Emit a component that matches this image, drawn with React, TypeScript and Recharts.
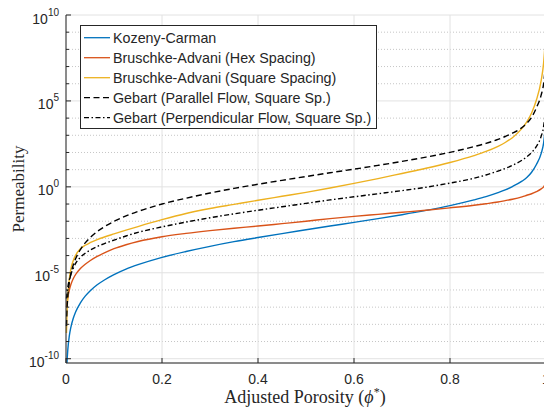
import React from 'react';
import { LineChart, Line, XAxis, YAxis, CartesianGrid, Legend } from 'recharts';

// adjusted porosity samples and log10(permeability)
const porosity = [0.001, 0.002, 0.004, 0.007, 0.01, 0.015, 0.02, 0.03, 0.04, 0.05, 0.065, 0.08, 0.1, 0.125, 0.15, 0.2, 0.25, 0.3, 0.35, 0.4, 0.45, 0.5, 0.55, 0.6, 0.65, 0.7, 0.75, 0.8, 0.85, 0.875, 0.9, 0.915, 0.93, 0.95, 0.96, 0.97, 0.98, 0.99, 0.995, 0.998];
const kozenyExp = [-11.2, -10.3, -9.4, -8.66, -8.19, -7.66, -7.28, -6.75, -6.36, -6.06, -5.7, -5.42, -5.11, -4.79, -4.53, -4.1, -3.76, -3.46, -3.19, -2.95, -2.72, -2.5, -2.28, -2.07, -1.85, -1.62, -1.37, -1.09, -0.76, -0.57, -0.34, -0.18, 0.02, 0.33, 0.54, 0.85, 1.3, 1.95, 2.55, 3.3];
const hexExp = [-7.0, -6.8, -6.4, -6.0, -5.7, -5.35, -5.1, -4.75, -4.5, -4.3, -4.05, -3.84, -3.6, -3.37, -3.18, -2.9, -2.71, -2.55, -2.41, -2.28, -2.14, -2.0, -1.85, -1.72, -1.6, -1.48, -1.36, -1.22, -1.07, -0.98, -0.88, -0.8, -0.72, -0.58, -0.49, -0.4, -0.28, -0.12, 0.0, 0.12];
const squareExp = [-8.5, -7.4, -6.3, -5.35, -4.8, -4.3, -3.98, -3.6, -3.4, -3.25, -3.07, -2.92, -2.74, -2.52, -2.31, -1.91, -1.55, -1.26, -1.02, -0.78, -0.55, -0.32, -0.07, 0.2, 0.48, 0.78, 1.08, 1.42, 1.82, 2.06, 2.36, 2.58, 2.86, 3.4, 3.78, 4.3, 5.05, 6.2, 7.2, 8.3];
const parallelExp = [-8.1, -7.2, -6.3, -5.56, -5.09, -4.56, -4.18, -3.65, -3.26, -2.96, -2.6, -2.32, -2.01, -1.69, -1.43, -1.0, -0.66, -0.36, -0.09, 0.15, 0.38, 0.6, 0.82, 1.03, 1.25, 1.48, 1.73, 2.01, 2.34, 2.53, 2.76, 2.93, 3.12, 3.45, 3.7, 4.05, 4.6, 5.35, 6.0, 6.8];
const perpExp = [-6.5, -6.2, -5.8, -5.4, -5.1, -4.75, -4.45, -4.1, -3.86, -3.68, -3.47, -3.3, -3.1, -2.86, -2.65, -2.33, -2.05, -1.8, -1.57, -1.36, -1.16, -0.96, -0.76, -0.58, -0.4, -0.22, -0.02, 0.22, 0.5, 0.69, 0.92, 1.07, 1.25, 1.55, 1.75, 2.0, 2.35, 2.95, 3.5, 4.2];

const xTicks = [0, 0.2, 0.4, 0.6, 0.8, 1];
const decades = [-10, -9, -8, -7, -6, -5, -4, -3, -2, -1, 0, 1, 2, 3, 4, 5, 6, 7, 8, 9, 10];

const series = [
  { key: 'kc', name: 'Kozeny-Carman', exp: kozenyExp, color: '#0072BD', dash: undefined },
  { key: 'hex', name: 'Bruschke-Advani (Hex Spacing)', exp: hexExp, color: '#D95319', dash: undefined },
  { key: 'sq', name: 'Bruschke-Advani (Square Spacing)', exp: squareExp, color: '#EDB120', dash: undefined },
  { key: 'par', name: 'Gebart (Parallel Flow, Square Sp.)', exp: parallelExp, color: '#000000', dash: '6 3.5' },
  { key: 'perp', name: 'Gebart (Perpendicular Flow, Square Sp.)', exp: perpExp, color: '#000000', dash: '5 2.5 1.5 2.5' },
];

const data = porosity.map((x, i) => {
  const row: any = { x };
  series.forEach((s) => { row[s.key] = Math.pow(10, s.exp[i]); });
  return row;
});

const TOP = 15;
const BOTTOM = 363;
const LEFT = 66;
const PX_PER_DECADE = (BOTTOM - TOP) / 20.25;
const sans = '"Liberation Sans", Arial, sans-serif';
const serif = '"Liberation Serif", "Times New Roman", serif';
const ink = '#262626';

const YTick = (props: any) => {
  const { y, payload } = props;
  const e = Math.round(Math.log10(payload.value));
  const major = e % 5 === 0;
  return (
    <g>
      <line x1={LEFT} x2={LEFT + (major ? 5 : 3)} y1={y} y2={y} stroke={ink} />
      {major && (
        <text x={59} y={y + 8.5} textAnchor="end" fill={ink} fontFamily={sans} fontSize={14}>
          10<tspan fontSize={10} dy={-8}>{e}</tspan>
        </text>
      )}
    </g>
  );
};

const XTick = (props: any) => {
  const { x, payload } = props;
  return (
    <g>
      <line x1={x} x2={x} y1={BOTTOM} y2={BOTTOM - 5} stroke={ink} />
      <text x={x} y={383.5} textAnchor="middle" fill={ink} fontFamily={sans} fontSize={14}>
        {String(payload.value)}
      </text>
    </g>
  );
};

const hLine = (p: any) => {
  const e = Math.round(10 - (p.y1 - TOP) / PX_PER_DECADE);
  const major = e % 5 === 0;
  return (
    <line key={`h-${p.index}`} x1={p.x1} x2={p.x2} y1={p.y1} y2={p.y2}
      stroke={major ? '#e2e2e2' : '#c6c6c6'} strokeDasharray={major ? undefined : '1 2'} />
  );
};

const vLine = (p: any) => (
  <line key={`v-${p.index}`} x1={p.x1} x2={p.x2} y1={p.y1} y2={p.y2} stroke="#e2e2e2" />
);

const LegendBox = () => (
  <svg width={297} height={104} style={{ display: 'block' }}>
    <rect x={0.5} y={0.5} width={296} height={103} fill="#fff" stroke={ink} strokeWidth={1} />
    {series.map((s, i) => (
      <g key={s.key}>
        <line x1={4} x2={30} y1={12.7 + i * 20} y2={12.7 + i * 20} stroke={s.color} strokeWidth={1.3} strokeDasharray={s.dash} />
        <text x={33} y={17.7 + i * 20} fill={ink} fontFamily={sans} fontSize={14.3}>{s.name}</text>
      </g>
    ))}
  </svg>
);

const App: React.FC = () => {
  return (
    <div style={{ position: 'fixed', left: 0, top: 0, width: 544, height: 411, overflow: 'hidden', background: '#fff' }}>
      <LineChart width={556} height={411} data={data} margin={{ top: TOP, right: 10, bottom: 0, left: 0 }}>
        <CartesianGrid horizontal={hLine} vertical={false} />
        <CartesianGrid horizontal={false} vertical={vLine} />
        <XAxis
          dataKey="x"
          type="number"
          domain={[0, 1]}
          ticks={xTicks}
          height={48}
          tick={<XTick />}
          tickLine={false}
          axisLine={{ stroke: ink }}
          label={{
            content: () => (
              <text x={305} y={403} textAnchor="middle" fill={ink} fontFamily={serif} fontSize={18}>
                Adjusted Porosity (<tspan fontStyle="italic">ϕ</tspan><tspan fontSize={12} dy={-7}>*</tspan><tspan dy={7}>)</tspan>
              </text>
            ),
          }}
        />
        <YAxis
          type="number"
          scale="log"
          domain={[Math.pow(10, -10.25), 1e10]}
          allowDataOverflow
          ticks={decades.map((e) => Math.pow(10, e))}
          width={LEFT}
          tick={<YTick />}
          tickLine={false}
          interval={0}
          axisLine={{ stroke: ink }}
          label={{
            content: () => (
              <text x={24} y={189} transform="rotate(-90 24 189)" textAnchor="middle" fill={ink} fontFamily={serif} fontSize={17}>
                Permeability
              </text>
            ),
          }}
        />
        <Legend
          layout="vertical"
          align="center"
          verticalAlign="middle"
          wrapperStyle={{ position: 'absolute', left: 80, top: 25, width: 297, height: 104 }}
          content={() => <LegendBox />}
        />
        {series.map((s) => (
          <Line
            key={s.key}
            dataKey={s.key}
            name={s.name}
            type="monotone"
            stroke={s.color}
            strokeWidth={1.4}
            strokeDasharray={s.dash}
            dot={false}
            isAnimationActive={false}
          />
        ))}
      </LineChart>
    </div>
  );
};

export default App;
